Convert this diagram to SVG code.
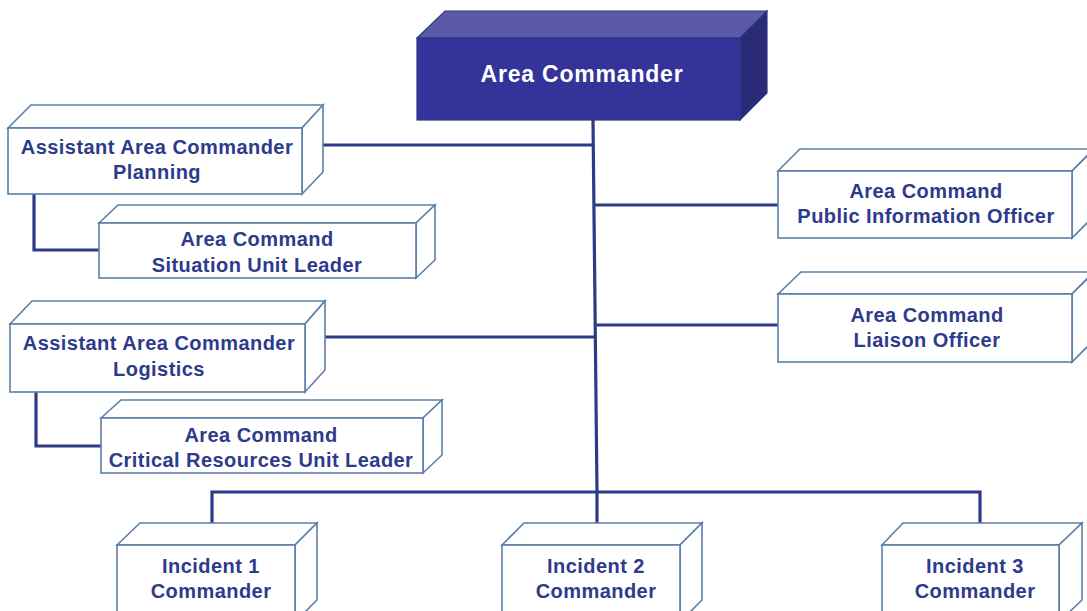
<svg xmlns="http://www.w3.org/2000/svg" width="1087" height="611" viewBox="0 0 1087 611">
<style>
.box{fill:#ffffff;stroke:#5a7fa8;stroke-width:1.6;stroke-linejoin:miter}
.t{font-family:"Liberation Sans",Arial,sans-serif;font-weight:bold;font-size:20px;letter-spacing:0.45px;fill:#2e3a8c;text-anchor:middle}
.tw{font-family:"Liberation Sans",Arial,sans-serif;font-weight:bold;font-size:23px;letter-spacing:0.8px;fill:#ffffff;text-anchor:middle}
.c{fill:none;stroke:#2e3a87;stroke-width:3.2;stroke-linejoin:miter}
</style>
<rect width="1087" height="611" fill="#ffffff"/>
<g id="connectors">
<line class="c" x1="593" y1="120" x2="597" y2="492"/>
<line class="c" x1="323" y1="145" x2="594" y2="145"/>
<line class="c" x1="594" y1="205" x2="778" y2="205"/>
<line class="c" x1="596" y1="325" x2="778" y2="325"/>
<line class="c" x1="325" y1="337" x2="596" y2="337"/>
<polyline class="c" points="212,523 212,492 980,492 980,523"/>
<line class="c" x1="597" y1="492" x2="597" y2="523"/>
<polyline class="c" points="34,194 34,250 99,250"/>
<polyline class="c" points="36,392 36,446 101,446"/>
</g>
<g id="area-commander">
<polygon points="417,38 445,11 767,11 740,38" fill="#5a5aa8" stroke="#2a3a80" stroke-width="1.2"/>
<polygon points="740,38 767,11 767,93 740,120" fill="#2a2a78" stroke="#2a3a80" stroke-width="1.2"/>
<rect x="417" y="38" width="323" height="82" fill="#333399" stroke="#2a3a80" stroke-width="1.2"/>
<text class="tw" x="582" y="82">Area Commander</text>
</g>
<g id="aac-planning">
<polygon class="box" points="8,128 31,105 323,105 302,128"/>
<polygon class="box" points="302,128 323,105 323,172 302,194"/>
<rect class="box" x="8" y="128" width="294" height="66"/>
<text class="t" x="157" y="154">Assistant Area Commander</text>
<text class="t" x="157" y="179">Planning</text>
</g>
<g id="situation-unit-leader">
<polygon class="box" points="99,223 118,205 435,205 416,223"/>
<polygon class="box" points="416,223 435,205 435,260 416,278"/>
<rect class="box" x="99" y="223" width="317" height="55"/>
<text class="t" x="257" y="246">Area Command</text>
<text class="t" x="257" y="272">Situation Unit Leader</text>
</g>
<g id="aac-logistics">
<polygon class="box" points="10,324 32,301 325,301 305,324"/>
<polygon class="box" points="305,324 325,301 325,370 305,392"/>
<rect class="box" x="10" y="324" width="295" height="68"/>
<text class="t" x="159" y="350">Assistant Area Commander</text>
<text class="t" x="159" y="376">Logistics</text>
</g>
<g id="critical-resources-unit-leader">
<polygon class="box" points="101,418 121,400 442,400 423,418"/>
<polygon class="box" points="423,418 442,400 442,455 423,473"/>
<rect class="box" x="101" y="418" width="322" height="55"/>
<text class="t" x="261" y="442">Area Command</text>
<text class="t" x="261" y="467">Critical Resources Unit Leader</text>
</g>
<g id="public-information-officer">
<polygon class="box" points="778,171 800,149 1094,149 1072,171"/>
<polygon class="box" points="1072,171 1094,149 1094,216 1072,238"/>
<rect class="box" x="778" y="171" width="294" height="67"/>
<text class="t" x="926" y="198">Area Command</text>
<text class="t" x="926" y="223">Public Information Officer</text>
</g>
<g id="liaison-officer">
<polygon class="box" points="778,294 801,272 1094,272 1072,294"/>
<polygon class="box" points="1072,294 1094,272 1094,340 1072,362"/>
<rect class="box" x="778" y="294" width="294" height="68"/>
<text class="t" x="927" y="322">Area Command</text>
<text class="t" x="927" y="347">Liaison Officer</text>
</g>
<g id="incident-1">
<polygon class="box" points="117,545 140,523 317,523 295,545"/>
<polygon class="box" points="295,545 317,523 317,600 295,622"/>
<rect class="box" x="117" y="545" width="178" height="80"/>
<text class="t" x="211" y="573">Incident 1</text>
<text class="t" x="211" y="598">Commander</text>
</g>
<g id="incident-2">
<polygon class="box" points="502,545 524,523 702,523 680,545"/>
<polygon class="box" points="680,545 702,523 702,600 680,622"/>
<rect class="box" x="502" y="545" width="178" height="80"/>
<text class="t" x="596" y="573">Incident 2</text>
<text class="t" x="596" y="598">Commander</text>
</g>
<g id="incident-3">
<polygon class="box" points="882,545 903,523 1082,523 1059,545"/>
<polygon class="box" points="1059,545 1082,523 1082,600 1059,622"/>
<rect class="box" x="882" y="545" width="177" height="80"/>
<text class="t" x="975" y="573">Incident 3</text>
<text class="t" x="975" y="598">Commander</text>
</g>
</svg>
